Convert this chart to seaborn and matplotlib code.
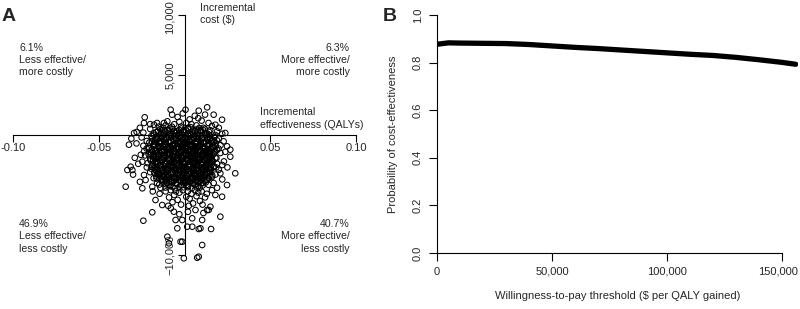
import pandas as pd
import seaborn as sns
import matplotlib.pyplot as plt
from matplotlib.transforms import ScaledTranslation

# Panel A: probabilistic sensitivity analysis (incremental QALYs, incremental cost $)
# points, grouped by cost band
pts_top = [(-0.0081, 2108), (-0.0072, 1692), (-0.0232, 1475), (-0.0236, 1000), (-0.0279, 250),
           (-0.0294, 167), (-0.0178, 858), (-0.012, 1000), (-0.010, 1142), (0.0006, 2108),
           (0.0132, 2308), (0.0083, 2025), (0.017, 1692), (0.0219, 1275), (0.018, 858),
           (0.0238, 167), (-0.004, 1500), (0.003, 1300), (0.006, 1600), (0.010, 1200),
           (0.014, 1000), (-0.015, 700), (-0.020, 500), (-0.013, 400), (-0.006, 900),
           (-0.002, 700), (0.002, 500), (0.007, 800), (0.011, 600), (0.015, 400),
           (0.019, 300), (-0.024, 200), (-0.018, 150), (-0.009, 300), (0.000, 200),
           (0.005, 100), (0.009, 350), (0.013, 150), (0.020, 600), (-0.011, 800),
           (-0.003, 1100), (0.004, 900), (-0.007, 500), (0.016, 750), (-0.016, 1000),
           (0.008, 1400), (-0.001, 1800), (0.012, 1700), (-0.020, 900), (0.022, 100),
           (-0.026, 600), (0.001, 1000), (-0.012, 100), (0.018, 0), (0.006, 300), (-0.005, 200)]

pts_upper_mid = [(-0.031, -300), (-0.028, -700), (-0.0324, -808), (-0.025, -200), (-0.024, -900),
                 (-0.0236, -1358), (-0.022, -500), (-0.021, -1100), (-0.019, -300), (-0.018, -800),
                 (-0.017, -1300), (-0.016, -100), (-0.015, -600), (-0.014, -1000), (-0.013, -1450),
                 (-0.012, -350), (-0.011, -750), (-0.010, -1200), (-0.009, -50), (-0.008, -500),
                 (-0.007, -900), (-0.006, -1350), (-0.005, -250), (-0.004, -650), (-0.003, -1050),
                 (-0.002, -1400), (-0.001, -150), (0.000, -550), (0.001, -950), (0.002, -1300),
                 (0.003, -400), (0.004, -800), (0.005, -1200), (0.006, -50), (0.007, -600),
                 (0.008, -1000), (0.009, -1400), (0.010, -300), (0.011, -700), (0.012, -1100),
                 (0.013, -200), (0.014, -900), (0.015, -1350), (0.016, -450), (0.017, -1000),
                 (0.018, -700), (0.019, -1250), (0.020, -300), (0.021, -850), (0.0228, -525),
                 (0.0248, -942), (0.0267, -1225), (0.0238, -1400), (-0.0195, -1450), (-0.0155, -900),
                 (-0.0105, -150), (-0.0065, -1100), (-0.0025, -750), (0.0015, -350), (0.0055, -900),
                 (0.0095, -650), (0.0135, -1250), (0.0175, -200), (-0.0135, -650), (-0.0085, -1300),
                 (-0.0045, -450), (-0.0005, -1200), (0.0035, -1450), (0.0075, -300), (0.0115, -1350),
                 (-0.0175, -550), (-0.0115, -1000), (0.0065, -1300), (-0.0035, -100), (0.0005, -750),
                 (0.0105, -1000)]

pts_mid = [(-0.0333, -2917), (-0.0314, -2642), (-0.0304, -2917), (-0.0246, -2225), (-0.029, -1900),
           (-0.027, -2400), (-0.023, -1700), (-0.022, -2700), (-0.020, -2000), (-0.019, -2500),
           (-0.018, -1600), (-0.017, -2900), (-0.016, -2200), (-0.015, -1800), (-0.014, -2600),
           (-0.013, -2050), (-0.012, -1650), (-0.011, -2400), (-0.010, -2850), (-0.009, -1900),
           (-0.008, -2300), (-0.007, -2700), (-0.006, -1600), (-0.005, -2100), (-0.004, -2550),
           (-0.003, -2950), (-0.002, -1800), (-0.001, -2250), (0.000, -2650), (0.001, -1550),
           (0.002, -2000), (0.003, -2450), (0.004, -2850), (0.005, -1750), (0.006, -2200),
           (0.007, -2600), (0.008, -1650), (0.009, -2050), (0.010, -2500), (0.011, -2900),
           (0.012, -1850), (0.013, -2300), (0.014, -2750), (0.015, -1600), (0.016, -2150),
           (0.017, -2600), (0.018, -1900), (0.019, -2400), (0.020, -2900), (0.0209, -1500),
           (0.0267, -1808), (0.023, -2200), (0.025, -2700), (0.022, -2500), (-0.0255, -1650),
           (-0.0215, -2350), (-0.0175, -2750), (-0.0135, -1700), (-0.0095, -2550), (-0.0055, -2900),
           (-0.0015, -2050), (0.0025, -1700), (0.0065, -2900), (0.0105, -1700), (0.0145, -2050),
           (-0.0125, -2900), (-0.0085, -1550), (-0.0045, -2350), (-0.0005, -2850), (0.0035, -2200),
           (0.0075, -2350), (0.0115, -2650), (0.0155, -2850), (-0.0165, -2000), (-0.0065, -2050),
           (0.0045, -1950), (-0.0195, -2800), (0.0185, -2700)]

pts_lower_mid = [(-0.0343, -4308), (-0.0246, -4442), (-0.0236, -3333), (-0.0227, -3750), (-0.0188, -4308),
                 (-0.030, -3300), (-0.026, -3900), (-0.020, -3100), (-0.018, -3600), (-0.016, -4000),
                 (-0.015, -3200), (-0.014, -4400), (-0.013, -3700), (-0.012, -3100), (-0.011, -4100),
                 (-0.010, -3500), (-0.009, -3900), (-0.008, -3200), (-0.007, -4300), (-0.006, -3600),
                 (-0.005, -4000), (-0.004, -3300), (-0.003, -3800), (-0.002, -4200), (-0.001, -3100),
                 (0.000, -3500), (0.001, -3950), (0.002, -4350), (0.003, -3250), (0.004, -3650),
                 (0.005, -4050), (0.006, -3400), (0.007, -3850), (0.008, -4250), (0.009, -3150),
                 (0.010, -3550), (0.011, -4000), (0.012, -3300), (0.013, -3750), (0.014, -4150),
                 (0.015, -3100), (0.016, -3500), (0.017, -4000), (0.018, -3300), (0.0209, -3192),
                 (0.0296, -3192), (0.0248, -4167), (0.022, -3700), (0.019, -4400), (-0.0085, -3650),
                 (-0.0045, -3550), (-0.0005, -3750), (0.0035, -3900), (0.0075, -3600), (0.0115, -3500),
                 (-0.0125, -3400), (-0.0025, -3050), (0.0055, -3200), (-0.0165, -3450), (0.0145, -3450)]

pts_low = [(-0.0169, -5417), (-0.013, -5833), (0.0219, -5142), (0.018, -5000), (0.0151, -5975),
           (-0.011, -4700), (-0.009, -5200), (-0.008, -4600), (-0.007, -5600), (-0.006, -5000),
           (-0.005, -4700), (-0.004, -5400), (-0.003, -4800), (-0.002, -5800), (0.002, -4700),
           (0.003, -5300), (0.004, -4900), (0.005, -5700), (0.006, -4600), (0.007, -5100),
           (0.008, -4800), (0.009, -5500), (0.010, -4700), (0.012, -5200), (0.013, -4900),
           (-0.0145, -4900), (-0.0185, -4700), (0.016, -4600), (0.0025, -5900), (-0.0095, -5900),
           (0.0105, -5800), (-0.001, -4600), (0.001, -5150)]

pts_tail = [(-0.024, -7142), (-0.0188, -6442), (-0.010, -8475), (-0.0091, -9025), (-0.0042, -7775),
            (-0.0023, -8892), (-0.0052, -7083), (-0.0062, -6392), (0.0209, -6808), (0.0155, -7833),
            (0.0103, -9167), (-0.0004, -10275), (0.0074, -10225), (0.0083, -10142), (0.0093, -7775),
            (0.0083, -7833), (0.0045, -6942), (0.0103, -7083), (0.0045, -7642), (0.0016, -7642),
            (0.0064, -6250), (0.0141, -6250), (-0.0013, -7083), (-0.0013, -8892), (0.0132, -6250),
            (-0.003, -6600), (0.002, -6400), (-0.008, -6100), (0.011, -6500)]

# the dense black core of the cloud
pts_core_a = [(-0.0142, 480), (-0.0088, 560), (-0.0031, 430), (0.0022, 610), (0.0071, 470), (0.0118, 520),
              (-0.0165, 240), (-0.0112, 310), (-0.0058, 190), (-0.0007, 280), (0.0046, 220), (0.0097, 330),
              (0.0143, 260), (-0.0193, -80), (-0.0138, -140), (-0.0079, -60), (-0.0024, -170), (0.0028, -90),
              (0.0081, -130), (0.0128, -40), (0.0171, -150), (-0.0171, -380), (-0.0117, -440), (-0.0064, -360),
              (-0.0012, -420), (0.0041, -350), (0.0089, -460), (0.0136, -390), (0.0189, -430), (-0.0205, -630),
              (-0.0148, -690), (-0.0093, -610), (-0.0038, -670), (0.0014, -640), (0.0063, -700), (0.0112, -620),
              (0.0158, -680), (-0.0183, -880), (-0.0127, -940), (-0.0071, -860), (-0.0019, -920), (0.0033, -890),
              (0.0084, -950), (0.0133, -870), (0.0181, -930), (-0.0221, -1130), (-0.0161, -1180), (-0.0104, -1110),
              (-0.0049, -1170), (0.0004, -1140), (0.0057, -1190), (0.0107, -1120), (0.0152, -1160), (0.0199, -1130),
              (-0.0186, -1380), (-0.0132, -1440), (-0.0077, -1360), (-0.0026, -1420), (0.0027, -1390), (0.0078, -1450),
              (0.0126, -1370), (0.0174, -1430), (-0.0208, -1630), (-0.0152, -1690), (-0.0098, -1610), (-0.0044, -1670),
              (0.0009, -1640), (0.0061, -1700), (0.0113, -1620), (0.0163, -1680), (-0.0179, -1880), (-0.0123, -1940),
              (-0.0068, -1860), (-0.0016, -1920), (0.0036, -1890), (0.0087, -1950), (0.0138, -1870), (0.0186, -1930),
              (-0.0197, -2130), (-0.0141, -2190), (-0.0089, -2110), (-0.0034, -2170), (0.0018, -2140), (0.0069, -2200),
              (0.0119, -2120), (0.0166, -2180), (-0.0168, -2380), (-0.0113, -2440), (-0.0059, -2360), (-0.0006, -2420),
              (0.0047, -2390), (0.0096, -2450), (0.0147, -2370), (-0.0189, -2630), (-0.0134, -2690), (-0.0081, -2610),
              (-0.0028, -2670), (0.0024, -2640), (0.0074, -2700), (0.0124, -2620), (0.0171, -2680), (-0.0157, -2880),
              (-0.0102, -2940), (-0.0047, -2860), (0.0003, -2920), (0.0054, -2890), (0.0104, -2950), (0.0151, -2870),
              (-0.0176, -3130), (-0.0121, -3190), (-0.0066, -3110), (-0.0014, -3170), (0.0038, -3140), (0.0086, -3200),
              (0.0133, -3120), (-0.0145, -3380), (-0.0091, -3440), (-0.0037, -3360), (0.0016, -3420), (0.0066, -3390),
              (0.0114, -3450), (0.0162, -3370), (-0.0163, -3630), (-0.0107, -3690), (-0.0053, -3610), (-0.0002, -3670),
              (0.0049, -3640), (0.0097, -3700), (0.0141, -3620), (-0.0128, -3880), (-0.0074, -3940), (-0.0021, -3860),
              (0.0031, -3920), (0.0079, -3890), (0.0124, -3950), (-0.0147, -4130), (-0.0093, -4190), (-0.0041, -4110),
              (0.0011, -4170), (0.0059, -4140), (0.0106, -4200), (-0.0111, -4380), (-0.0057, -4440), (-0.0005, -4360),
              (0.0044, -4420), (0.0089, -4390)]

pts_core_b = [(-0.0116, 380), (-0.0061, 350), (-0.0004, 410), (0.0049, 370), (0.0094, 400),
              (-0.0139, 120), (-0.0085, 60), (-0.0031, 140), (0.0019, 40), (0.0072, 110), (0.0121, 70),
              (-0.0166, -260), (-0.0109, -220), (-0.0052, -290), (0.0001, -240), (0.0054, -270), (0.0106, -210),
              (0.0151, -280), (-0.0144, -520), (-0.0090, -560), (-0.0037, -500), (0.0016, -540), (0.0066, -510),
              (0.0113, -570), (0.0162, -530), (-0.0177, -770), (-0.0121, -810), (-0.0066, -750), (-0.0011, -790),
              (0.0039, -760), (0.0088, -820), (0.0137, -780), (-0.0155, -1010), (-0.0099, -1050), (-0.0045, -990),
              (0.0007, -1030), (0.0059, -1000), (0.0109, -1060), (0.0157, -1020), (-0.0192, -1260), (-0.0133, -1300),
              (-0.0076, -1240), (-0.0022, -1280), (0.0031, -1250), (0.0082, -1310), (0.0131, -1270), (0.0178, -1290),
              (-0.0159, -1510), (-0.0104, -1550), (-0.0051, -1490), (0.0001, -1530), (0.0053, -1500), (0.0103, -1560),
              (0.0149, -1520), (-0.0181, -1760), (-0.0125, -1800), (-0.0071, -1740), (-0.0018, -1780), (0.0035, -1750),
              (0.0086, -1810), (0.0137, -1770), (-0.0151, -2010), (-0.0096, -2050), (-0.0042, -1990), (0.0010, -2030),
              (0.0062, -2000), (0.0112, -2060), (0.0159, -2020), (-0.0169, -2260), (-0.0115, -2300), (-0.0062, -2240),
              (-0.0008, -2280), (0.0044, -2250), (0.0094, -2310), (0.0143, -2270), (-0.0141, -2510), (-0.0086, -2550),
              (-0.0033, -2490), (0.0020, -2530), (0.0071, -2500), (0.0121, -2560), (-0.0161, -2760), (-0.0107, -2800),
              (-0.0054, -2740), (-0.0002, -2780), (0.0050, -2750), (0.0099, -2810), (0.0146, -2770), (-0.0129, -3010),
              (-0.0075, -3050), (-0.0020, -2990), (0.0029, -3030), (0.0080, -3000), (0.0128, -3060), (-0.0149, -3260),
              (-0.0094, -3300), (-0.0040, -3240), (0.0012, -3280), (0.0062, -3250), (0.0110, -3310), (-0.0118, -3510),
              (-0.0064, -3550), (-0.0010, -3490), (0.0041, -3530), (0.0090, -3500), (0.0137, -3560), (-0.0135, -3760),
              (-0.0080, -3800), (-0.0027, -3740), (0.0023, -3780), (0.0072, -3750), (0.0117, -3810), (-0.0101, -4010),
              (-0.0047, -4050), (0.0005, -3990), (0.0054, -4030), (0.0098, -4000), (-0.0083, -4270), (-0.0030, -4300),
              (0.0019, -4250), (0.0067, -4290)]

pts_core_c = [(-0.0127, 620), (-0.0073, 690), (-0.0018, 540), (0.0036, 650), (0.0085, 580),
              (-0.0154, 360), (-0.0099, 420), (-0.0045, 300), (0.0009, 380), (0.0060, 330), (0.0108, 410),
              (-0.0180, 20), (-0.0124, -30), (-0.0068, 60), (-0.0015, -20), (0.0039, 10), (0.0093, -50),
              (0.0141, 30), (-0.0157, -330), (-0.0103, -290), (-0.0048, -340), (0.0005, -300), (0.0057, -320),
              (0.0104, -280), (0.0149, -330), (-0.0190, -560), (-0.0134, -600), (-0.0078, -580), (-0.0025, -610),
              (0.0027, -570), (0.0076, -590), (0.0125, -560), (0.0172, -600), (-0.0170, -830), (-0.0113, -800),
              (-0.0057, -840), (-0.0003, -810), (0.0048, -850), (0.0097, -800), (0.0145, -830), (-0.0205, -1060),
              (-0.0146, -1080), (-0.0090, -1040), (-0.0035, -1090), (0.0017, -1050), (0.0069, -1070), (0.0119, -1040),
              (0.0166, -1080), (-0.0172, -1320), (-0.0118, -1330), (-0.0063, -1300), (-0.0011, -1340), (0.0041, -1310),
              (0.0092, -1330), (0.0140, -1300), (-0.0195, -1580), (-0.0139, -1560), (-0.0085, -1590), (-0.0031, -1570),
              (0.0021, -1580), (0.0072, -1560), (0.0124, -1590), (0.0172, -1570), (-0.0165, -1830), (-0.0110, -1820),
              (-0.0056, -1840), (-0.0003, -1810), (0.0049, -1830), (0.0100, -1820), (0.0150, -1840), (-0.0183, -2070),
              (-0.0128, -2090), (-0.0075, -2060), (-0.0021, -2080), (0.0031, -2070), (0.0081, -2090), (0.0131, -2060),
              (-0.0154, -2330), (-0.0100, -2320), (-0.0046, -2340), (0.0007, -2310), (0.0058, -2330), (0.0108, -2320),
              (0.0156, -2340), (-0.0175, -2580), (-0.0121, -2590), (-0.0067, -2570), (-0.0015, -2600), (0.0037, -2580),
              (0.0087, -2590), (0.0137, -2570), (-0.0143, -2830), (-0.0088, -2840), (-0.0034, -2820), (0.0016, -2850),
              (0.0067, -2830), (0.0117, -2840), (-0.0162, -3070), (-0.0108, -3080), (-0.0053, -3060), (-0.0001, -3090),
              (0.0050, -3070), (0.0099, -3080), (0.0145, -3060), (-0.0131, -3330), (-0.0077, -3320), (-0.0024, -3340),
              (0.0028, -3310), (0.0077, -3330), (0.0125, -3320), (-0.0149, -3580), (-0.0094, -3570), (-0.0040, -3590),
              (0.0011, -3560), (0.0061, -3580), (0.0108, -3570), (-0.0114, -3830), (-0.0060, -3820), (-0.0008, -3840),
              (0.0043, -3810), (0.0090, -3830)]

quadrant_labels = ["6.1%\nLess effective/\nmore costly", "6.3%\nMore effective/\nmore costly",
                   "46.9%\nLess effective/\nless costly", "40.7%\nMore effective/\nless costly"]
x_ticks_a = [-0.10, -0.05, 0.05, 0.10]
x_ticklabels_a = ["-0.10", "-0.05", "0.05", "0.10"]
y_ticks_a = [-10000, 5000, 10000]
y_ticklabels_a = ["\u221210,000", "5,000", "10,000"]

# Panel B: cost-effectiveness acceptability curve
wtp = [0, 5000, 10000, 20000, 30000, 40000, 50000, 60000, 70000, 80000, 90000,
       100000, 110000, 120000, 130000, 140000, 150000, 156000]
prob_ce = [0.877, 0.883, 0.882, 0.881, 0.880, 0.876, 0.870, 0.864, 0.859, 0.853, 0.847,
           0.841, 0.835, 0.830, 0.822, 0.812, 0.801, 0.793]
x_ticks_b = [0, 50000, 100000, 150000]
x_ticklabels_b = ["0", "50,000", "100,000", "150,000"]
y_ticks_b = [0.0, 0.2, 0.4, 0.6, 0.8, 1.0]

sns.set_style("white")
plt.rcParams['font.family'] = ['Liberation Sans', 'DejaVu Sans']

psa = pd.DataFrame(pts_top + pts_upper_mid + pts_mid + pts_lower_mid + pts_low + pts_tail
                   + pts_core_a + pts_core_b + pts_core_c, columns=['qaly', 'cost'])
ceac = pd.DataFrame({'wtp': wtp, 'prob': prob_ce})

W, H = 800, 309
fig = plt.figure(figsize=(8, 3.09), dpi=100)

# ---- Panel A ----
ax_a = fig.add_axes([13 / W, (H - 255) / H, 343 / W, 240 / H])
sns.scatterplot(data=psa, x='qaly', y='cost', ax=ax_a, marker='o', s=16,
                color='black', linewidth=0.75, clip_on=False, legend=False)
coll = ax_a.collections[0]
coll.set_facecolor('none')
coll.set_edgecolor('black')
ax_a.set_xlim(-0.10, 0.10)
ax_a.set_ylim(-10000, 10000)
for side in ['top', 'right']:
    ax_a.spines[side].set_visible(False)
ax_a.spines['left'].set_position(('data', 0))
ax_a.spines['bottom'].set_position(('data', 0))
ax_a.spines['left'].set_bounds(-10000, 10000)
ax_a.spines['bottom'].set_bounds(-0.10, 0.10)
for side in ['left', 'bottom']:
    ax_a.spines[side].set_color('black')
    ax_a.spines[side].set_linewidth(0.8)
ax_a.set_xticks(x_ticks_a)
ax_a.set_xticklabels(x_ticklabels_a)
ax_a.set_yticks(y_ticks_a)
ax_a.set_yticklabels(y_ticklabels_a, rotation=90, va='center')
ax_a.tick_params(axis='x', direction='out', length=5, width=0.8, color='black',
                 labelsize=8, pad=0.5, bottom=True)
ax_a.tick_params(axis='y', direction='out', length=5, width=0.8, color='black',
                 labelsize=8, pad=2, left=True)
top_label = ax_a.get_yticklabels()[-1]
top_label.set_transform(top_label.get_transform() + ScaledTranslation(0, -2 / 100, fig.dpi_scale_trans))
ax_a.set_xlabel('')
ax_a.set_ylabel('')
ax_a.patch.set_alpha(0)

fs = 7.6
ax_a.text(0.0093, 11000, "Incremental\ncost ($)", ha='left', va='top', fontsize=fs, linespacing=1.3)
ax_a.text(0.0442, 2300, "Incremental\neffectiveness (QALYs)", ha='left', va='top', fontsize=fs,
          linespacing=1.3)
ax_a.text(-0.0965, 7700, quadrant_labels[0], ha='left', va='top', fontsize=fs, linespacing=1.3)
ax_a.text(0.0965, 7700, quadrant_labels[1], ha='right', va='top', fontsize=fs, linespacing=1.3)
ax_a.text(-0.0965, -7000, quadrant_labels[2], ha='left', va='top', fontsize=fs, linespacing=1.3)
ax_a.text(0.0965, -7000, quadrant_labels[3], ha='right', va='top', fontsize=fs, linespacing=1.3)

# ---- Panel B ----
ax_b = fig.add_axes([437 / W, (H - 253) / H, 361 / W, 238 / H])
sns.lineplot(data=ceac, x='wtp', y='prob', ax=ax_b, color='black', linewidth=3.8)
ax_b.set_xlim(0, 157000)
ax_b.set_ylim(0, 1)
for side in ['top', 'right']:
    ax_b.spines[side].set_visible(False)
ax_b.spines['left'].set_bounds(0, 1)
ax_b.spines['bottom'].set_bounds(0, 150000)
for side in ['left', 'bottom']:
    ax_b.spines[side].set_color('black')
    ax_b.spines[side].set_linewidth(0.8)
ax_b.set_xticks(x_ticks_b)
ax_b.set_xticklabels(x_ticklabels_b)
ax_b.set_yticks(y_ticks_b)
ax_b.set_yticklabels([f"{v:.1f}" for v in y_ticks_b], rotation=90, va='center')
ax_b.tick_params(axis='both', direction='out', length=6, width=0.8, color='black',
                 labelsize=8, pad=4, left=True, bottom=True)
last = ax_b.get_xticklabels()[-1]
last.set_transform(last.get_transform() + ScaledTranslation(-4 / 100, 0, fig.dpi_scale_trans))
ax_b.set_xlabel("Willingness-to-pay threshold ($ per QALY gained)", fontsize=8, labelpad=10)
ax_b.set_ylabel("Probability of cost-effectiveness", fontsize=8, labelpad=11)
ax_b.patch.set_alpha(0)

fig.text(2 / W, 1 - 21 / H, "A", fontsize=14, fontweight='bold', ha='left', va='baseline')
fig.text(383 / W, 1 - 21 / H, "B", fontsize=14, fontweight='bold', ha='left', va='baseline')

fig.savefig("out.png", dpi=100)
